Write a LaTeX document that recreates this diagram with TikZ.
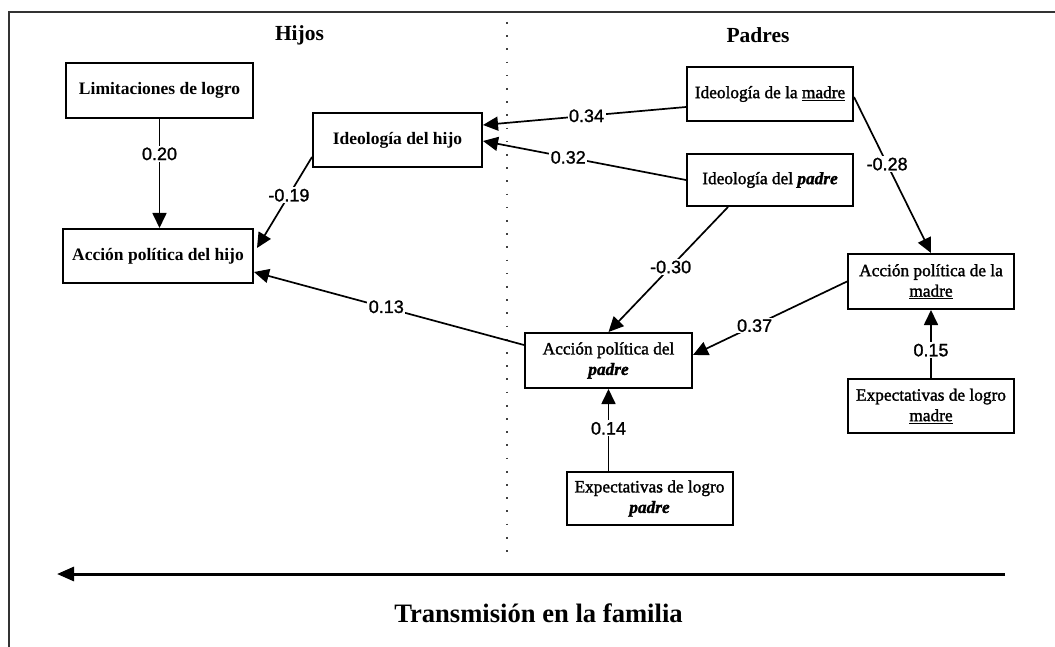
\documentclass[tikz,border=0pt]{standalone}
\usepackage{fontspec}
\setmainfont{Liberation Serif}
\newfontfamily\medfont[FakeBold=1.6]{Liberation Serif}
\newfontfamily\labfont[FakeBold=1.3]{Liberation Sans}
\usetikzlibrary{arrows.meta}
\tikzset{
  box/.style={draw, line width=2pt, inner sep=0pt, align=center},
  boldbox/.style={box, font=\fontsize{17.5}{20}\selectfont\bfseries},
  regbox/.style={box, minimum width=166pt, font=\medfont\fontsize{17.3}{20.5}\selectfont},
  conn/.style={line width=1.7pt, -{Triangle[length=15pt,width=14pt]}},
  coef/.style={fill=white, inner sep=1.5pt, font=\labfont\fontsize{18}{20}\selectfont},
  title/.style={font=\fontsize{21.5}{24}\selectfont\bfseries},
}
\begin{document}
\begin{tikzpicture}[x=1pt,y=-1pt]
\useasboundingbox (0,0) rectangle (1055,647);
% frame
\draw[line width=1.4pt, black!80] (9,647) -- (9,12) -- (1055,12);
% divider
\draw[line width=1.7pt, black!75, dash pattern=on 1.7pt off 11.5pt] (507,22) -- (507,560);
% titles
\node[title] (hijos) at (299.5,35) {Hijos};
\node[title] (padres) at (758,35) {Padres};
% boxes
\node[boldbox, minimum width=187pt, minimum height=55pt] (lim) at (159.5,90.5) {Limitaciones de logro};
\node[boldbox, minimum width=190pt, minimum height=54pt] (ahijo) at (158,256) {Acción política del hijo};
\node[boldbox, minimum width=169pt, minimum height=54pt] (ihijo) at (397.5,140) {Ideología del hijo};
\node[regbox, minimum height=54pt] (imadre) at (770,94) {Ideología de la \underline{madre}};
\node[regbox, minimum height=52pt] (ipadre) at (770,180) {Ideología del \textbf{\textit{padre}}};
\node[regbox, minimum height=55pt] (amadre) at (931,281.5) {Acción política de la\\\underline{madre}};
\node[regbox, minimum width=167pt, minimum height=55pt] (apadre) at (608.5,360.5) {Acción política del\\\textbf{\textit{padre}}};
\node[regbox, minimum height=53pt] (epadre) at (649.5,498.5) {Expectativas de logro\\\textbf{\textit{padre}}};
\node[regbox, minimum height=54pt] (emadre) at (931,406) {Expectativas de logro\\\underline{madre}};
% connectors
\draw[conn] (lim.south) -- node[coef, pos=0.32] {0.20} (lim.south |- ahijo.north);
\draw[conn] ([yshift=-17pt]ihijo.west) -- node[coef, pos=0.42] {-0.19} ([xshift=3pt,yshift=8pt]ahijo.east);
\draw[conn] ([yshift=-13pt]imadre.west) -- node[coef, pos=0.49] {0.34} ([yshift=15pt]ihijo.east);
\draw[conn] (ipadre.west) -- node[coef, pos=0.58] {0.32} ([yshift=-1pt]ihijo.east);
\draw[conn] ([yshift=-3pt]imadre.east) -- node[coef, pos=0.43] {-0.28} (amadre.north);
\draw[conn] ([xshift=-42pt]ipadre.south) -- node[coef, pos=0.48] {-0.30} (apadre.north);
\draw[conn] (amadre.west) -- node[coef, pos=0.6] {0.37} ([yshift=5.5pt]apadre.east);
\draw[conn] ([yshift=15.5pt]apadre.west) -- node[coef, pos=0.51, yshift=1pt] {0.13} ([yshift=-16pt]ahijo.east);
\draw[conn] (apadre.south |- epadre.north) -- node[coef, pos=0.52] {0.14} (apadre.south);
\draw[conn] (emadre.north) -- node[coef, pos=0.41] {0.15} (amadre.south);
% transmission arrow
\coordinate (tstart) at (1005,574);
\coordinate (tend) at (57,574);
\draw[line width=3pt, -{Triangle[length=17pt,width=14pt]}] (tstart) -- (tend);
\node[font=\fontsize{26.6}{30}\selectfont\bfseries] (trans) at (538.5,613) {Transmisión en la familia};
\end{tikzpicture}
\end{document}
